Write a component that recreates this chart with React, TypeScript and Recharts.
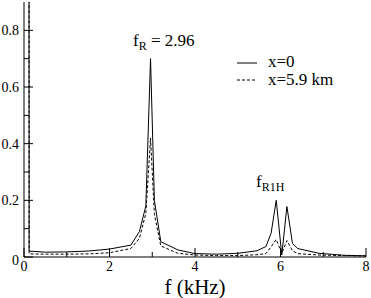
import { LineChart, Line, XAxis, YAxis } from "recharts";

// frequency samples (kHz)
const freq = [0, 0.12, 0.5, 1, 1.5, 2, 2.5, 2.7, 2.85, 2.96, 3.05, 3.2, 3.6, 4, 4.5, 5, 5.45, 5.66, 5.78, 5.9, 6.03, 6.15, 6.28, 6.4, 6.9, 7.5, 8];
// spectrum at x=0
const atOrigin = [50, 0.021, 0.017, 0.018, 0.021, 0.028, 0.042, 0.09, 0.18, 0.7, 0.2, 0.054, 0.025, 0.012, 0.01, 0.013, 0.022, 0.037, 0.084, 0.2, 0.007, 0.178, 0.048, 0.03, 0.013, 0.006, 0.004];
// spectrum at x=5.9 km
const atFar = [50, 0.011, 0.01, 0.01, 0.011, 0.015, 0.03, 0.066, 0.154, 0.42, 0.15, 0.039, 0.013, 0.007, 0.005, 0.005, 0.008, 0.012, 0.036, 0.062, 0.013, 0.058, 0.022, 0.012, 0.007, 0.005, 0.004];

const xTicks = [0, 1, 2, 3, 4, 5, 6, 7, 8];
const yTicks = [0, 0.1, 0.2, 0.3, 0.4, 0.5, 0.6, 0.7, 0.8];
const xLabels = [0, 2, 4, 6, 8];
const yLabels = [0, 0.2, 0.4, 0.6, 0.8];

const data = freq.map((f, i) => ({ f, a: atOrigin[i], b: atFar[i] }));

const SERIF = '"Liberation Serif"';
const txt = { fontFamily: SERIF };
const MAJOR = 9;
const MINOR = 5;

const isX = (v: number) => xLabels.includes(v);
const isY = (v: number) => yLabels.some((l) => Math.abs(l - v) < 1e-6);

function BottomTick({ x, y, payload }: any) {
  const major = isX(payload.value);
  return (
    <g>
      <line x1={x} y1={y} x2={x} y2={y - (major ? MAJOR : MINOR)} stroke="#000" />
      {major && (
        <text x={x} y={y + 14} textAnchor="middle" fontSize={14} fontFamily={SERIF} style={txt} fill="#000">
          {payload.value}
        </text>
      )}
    </g>
  );
}

function TopTick({ x, y, payload }: any) {
  const major = isX(payload.value);
  return <line x1={x} y1={y} x2={x} y2={y + (major ? MAJOR : MINOR)} stroke="#000" />;
}

function LeftTick({ x, y, payload }: any) {
  const major = isY(payload.value);
  const v = payload.value;
  return (
    <g>
      <line x1={x} y1={y} x2={x + (major ? MAJOR : MINOR)} y2={y} stroke="#000" />
      {major && (
        <text x={x - 5} y={y + 5 + (v === 0 ? 3 : 0)} textAnchor="end" fontSize={14} fontFamily={SERIF} style={txt} fill="#000">
          {v === 0 ? "0" : v.toFixed(1)}
        </text>
      )}
    </g>
  );
}

function RightTick({ x, y, payload }: any) {
  const major = isY(payload.value);
  return <line x1={x} y1={y} x2={x - (major ? MAJOR : MINOR)} y2={y} stroke="#000" />;
}

export default function App() {
  return (
    <div style={{ position: "absolute", left: 0, top: 0, width: 371, height: 298, background: "#fff" }}>
      <LineChart width={371} height={298} data={data} margin={{ top: 2, right: 5, bottom: 0, left: 0 }}>
        <XAxis
          xAxisId="b"
          dataKey="f"
          type="number"
          domain={[0, 8]}
          ticks={xTicks}
          interval={0}
          height={41}
          tickSize={0}
          tickMargin={0}
          tickLine={false}
          axisLine={{ stroke: "#000" }}
          tick={<BottomTick />}
          label={({ viewBox }: any) => (
            <text x={viewBox.x + viewBox.width / 2} y={viewBox.y + 37} textAnchor="middle" fontSize={21} fontFamily={SERIF} style={txt}>
              f (kHz)
            </text>
          )}
        />
        <XAxis
          xAxisId="t"
          orientation="top"
          dataKey="f"
          type="number"
          domain={[0, 8]}
          ticks={xTicks}
          interval={0}
          height={0}
          tickSize={0}
          tickMargin={0}
          tickLine={false}
          axisLine={{ stroke: "#000" }}
          tick={<TopTick />}
        />
        <YAxis
          yAxisId="l"
          type="number"
          domain={[0, 0.9]}
          allowDataOverflow
          ticks={yTicks}
          interval={0}
          width={24}
          tickSize={0}
          tickMargin={0}
          tickLine={false}
          axisLine={{ stroke: "#000" }}
          tick={<LeftTick />}
        />
        <YAxis
          yAxisId="r"
          orientation="right"
          type="number"
          domain={[0, 0.9]}
          allowDataOverflow
          ticks={yTicks}
          interval={0}
          width={0}
          tickSize={0}
          tickMargin={0}
          tickLine={false}
          axisLine={{ stroke: "#000" }}
          tick={<RightTick />}
        />
        <Line xAxisId="b" yAxisId="l" type="linear" dataKey="a" name="x=0" stroke="#000" strokeWidth={1} dot={false} isAnimationActive={false} />
        <Line xAxisId="b" yAxisId="l" type="linear" dataKey="b" name="x=5.9 km" stroke="#000" strokeWidth={1} strokeDasharray="3 2" dot={false} isAnimationActive={false} />
      </LineChart>
      <svg width={371} height={298} fontFamily={SERIF} style={{ position: "absolute", left: 0, top: 0, pointerEvents: "none", ...txt }}>
        <text x={133} y={46} fontSize={17}>
          f<tspan fontSize={12} dy={4}>R</tspan>
          <tspan dy={-4}> = 2.96</tspan>
        </text>
        <text x={256} y={187} fontSize={17}>
          f<tspan fontSize={12} dy={4}>R1H</tspan>
        </text>
        <line x1={237} y1={63} x2={257} y2={63} stroke="#000" />
        <text x={268} y={67} fontSize={17}>x=0</text>
        <line x1={237} y1={80} x2={257} y2={80} stroke="#000" strokeDasharray="3 2" />
        <text x={268} y={85} fontSize={17}>x=5.9 km</text>
      </svg>
    </div>
  );
}
